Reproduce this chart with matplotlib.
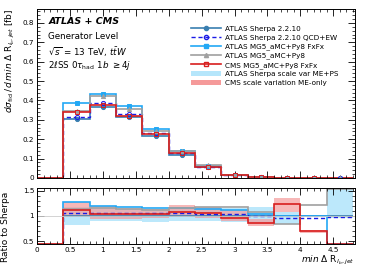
import numpy as np
import matplotlib
matplotlib.use("Agg")
import matplotlib.pyplot as plt
from matplotlib.lines import Line2D
from matplotlib.patches import Patch
from matplotlib.ticker import MultipleLocator

edges = [0.0, 0.4, 0.8, 1.2, 1.6, 2.0, 2.4, 2.8, 3.2, 3.6, 4.0, 4.4, 4.8]
sherpa = [0.0, 0.302, 0.364, 0.313, 0.218, 0.120, 0.055, 0.0145, 0.0035, 0.0012, 0.0005, 0.0003]
r_qcdew = [0.0, 1.05, 1.06, 1.06, 1.06, 1.06, 1.04, 1.04, 1.00, 0.97, 0.96, 0.99]
r_fxfx = [0.0, 1.28, 1.19, 1.18, 1.16, 1.15, 1.13, 1.12, 1.03, 1.00, 1.00, 0.0]
r_mg5 = [0.0, 1.14, 1.16, 1.14, 1.12, 1.16, 1.18, 1.17, 1.07, 0.85, 1.21, 2.0]
r_cms = [0.0, 1.12, 1.04, 1.03, 1.03, 1.08, 1.05, 0.97, 0.86, 1.23, 0.70, 0.0]
sh_lo = [np.nan, 0.83, 0.90, 0.90, 0.89, 0.91, 0.91, 0.89, 0.88, 0.85, np.nan, 0.97]
sh_hi = [np.nan, 1.18, 1.13, 1.13, 1.13, 1.14, 1.14, 1.16, 1.17, 1.08, np.nan, 1.60]
cms_lo = [np.nan, 1.00, 0.95, 0.95, 0.97, 0.98, 0.97, 0.90, 0.80, 1.08, 0.67, np.nan]
cms_hi = [np.nan, 1.27, 1.19, 1.15, 1.13, 1.21, 1.18, 1.12, 0.95, 1.35, 0.72, np.nan]

labels = ["ATLAS Sherpa 2.2.10", "ATLAS Sherpa 2.2.10 QCD+EW", "ATLAS MG5_aMC+Py8 FxFx",
          "ATLAS MG5_aMC+Py8", "CMS MG5_aMC+Py8 FxFx",
          "ATLAS Sherpa scale var ME+PS", "CMS scale variation ME-only"]

edges = np.array(edges)
sh = np.array(sherpa)
centers = 0.5 * (edges[:-1] + edges[1:])
C_SH = "#3a7fb0"; C_EW = "#1a1ae6"; C_FX = "#22a8f5"; C_MG = "#a0a0a0"; C_CMS = "#d81e1e"
C_BSH = "#b5e6fb"; C_BCMS = "#f59a9a"

W, H = 374, 268
fig = plt.figure(figsize=(W/100, H/100), dpi=100)
axm = fig.add_axes([37/W, 1-178/H, 318/W, 169/H])
axr = fig.add_axes([37/W, 1-244/H, 318/W, 56/H])
fs = 5.2

series = [
    ("sh", np.ones(12), C_SH, "-", "o", C_SH),
    ("ew", np.array(r_qcdew), C_EW, (0, (3, 2)), "o", "none"),
    ("fx", np.array(r_fxfx), C_FX, "-", "s", C_FX),
    ("mg", np.array(r_mg5), C_MG, "-", "^", C_MG),
    ("cms", np.array(r_cms), C_CMS, "-", "s", "none"),
]

for name, r, c, ls, mk, mfc in series:
    vals = r * sh if name != "sh" else sh
    axm.stairs(vals, edges, baseline=None, color=c, lw=1.2 if name != "ew" else 1.0, ls=ls)
    m = vals > 0
    axm.plot(centers[m], vals[m], ls="none", marker=mk, ms=3, color=c, mfc=mfc, mew=0.7)

# ratio bands
axr.stairs(np.array(sh_hi), edges, baseline=np.array(sh_lo), fill=True, color=C_BSH, alpha=0.9, lw=0)
axr.stairs(np.array(cms_hi), edges, baseline=np.array(cms_lo), fill=True, color=C_BCMS, alpha=0.7, lw=0)
axr.axhline(1.0, color="#cccccc", lw=0.6)
ylo, yhi = 0.45, 1.55
for name, r, c, ls, mk, mfc in series:
    rr = r.copy()
    if name == "sh":
        rr[0] = 0.0
    rr = np.clip(rr, ylo + 0.008, yhi - 0.012)
    axr.stairs(rr, edges, baseline=None, color=c, lw=1.2 if name != "ew" else 1.0, ls=ls)

for ax in (axm, axr):
    ax.set_xlim(0, 4.83)
    ax.xaxis.set_major_locator(MultipleLocator(0.5))
    ax.xaxis.set_minor_locator(MultipleLocator(0.1))
    ax.tick_params(which="both", direction="in", top=True, right=True, labelsize=fs, pad=2)
    ax.tick_params(which="major", length=5, width=0.6)
    ax.tick_params(which="minor", length=2.5, width=0.5)
    for s in ax.spines.values():
        s.set_linewidth(0.7)

axm.set_ylim(0, 0.872)
axm.yaxis.set_major_locator(MultipleLocator(0.1))
axm.yaxis.set_minor_locator(MultipleLocator(0.02))
axm.set_yticks([0, 0.1, 0.2, 0.3, 0.4, 0.5, 0.6, 0.7, 0.8])
axm.set_yticklabels(["0", "0.1", "0.2", "0.3", "0.4", "0.5", "0.6", "0.7", "0.8"])
axm.tick_params(labelbottom=False)

axr.set_ylim(ylo, yhi)
axr.set_yticks([0.5, 1.0, 1.5])
axr.set_yticklabels(["0.5", "1", "1.5"])
axr.yaxis.set_minor_locator(MultipleLocator(0.1))
axr.set_xticks([0, 0.5, 1, 1.5, 2, 2.5, 3, 3.5, 4, 4.5])
axr.set_xticklabels(["0", "0.5", "1", "1.5", "2", "2.5", "3", "3.5", "4", "4.5"])

axm.set_ylabel(r"$d\sigma_{\rm fid}\,/\,d\,min\ \Delta\ {\rm R}_{l_b,jet}$ [fb]", fontsize=6.5, loc="top", labelpad=4)
axr.set_ylabel("Ratio to Sherpa", fontsize=6.5)
axr.yaxis.set_label_coords(-0.085, 0.3)
axr.set_xlabel(r"$min\ \Delta\ {\rm R}_{l_b,jet}$", fontsize=6.5, loc="right", labelpad=1)

axm.text(0.035, 0.955, "ATLAS + CMS", transform=axm.transAxes, fontsize=6.8, fontweight="bold",
         style="italic", va="top")
axm.text(0.035, 0.865, "Generator Level", transform=axm.transAxes, fontsize=6.3, va="top")
axm.text(0.035, 0.785, r"$\sqrt{s}$ = 13 TeV, $t\bar{t}W$", transform=axm.transAxes, fontsize=6.3, va="top")
axm.text(0.035, 0.705, r"2$\ell$SS 0$\tau_{\rm had}$ 1$b$ $\geq$4$j$", transform=axm.transAxes, fontsize=6.3, va="top")

handles = [
    Line2D([], [], color=C_SH, lw=1.2, marker="o", ms=3),
    Line2D([], [], color=C_EW, lw=1.0, ls=(0, (3, 2)), marker="o", ms=3, mfc="none"),
    Line2D([], [], color=C_FX, lw=1.2, marker="s", ms=3),
    Line2D([], [], color=C_MG, lw=1.2, marker="^", ms=3),
    Line2D([], [], color=C_CMS, lw=1.2, marker="s", ms=3, mfc="none"),
    Patch(facecolor=C_BSH, edgecolor="none"),
    Patch(facecolor=C_BCMS, edgecolor="none"),
]
axm.legend(handles, labels, loc="upper right", bbox_to_anchor=(0.965, 0.93), fontsize=5.2,
           frameon=False, handlelength=4.2, handletextpad=0.6, labelspacing=0.35, borderpad=0.2)

fig.savefig("out.png", dpi=100)
